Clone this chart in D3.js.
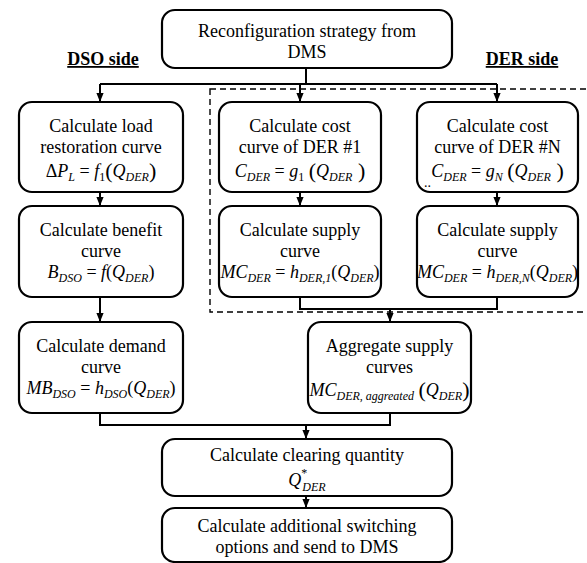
<!DOCTYPE html>
<html><head><meta charset="utf-8">
<script src="https://cdn.jsdelivr.net/npm/d3@7"></script>
<style>body{margin:0;background:#fff}svg{display:block}</style>
</head><body><svg id="c" width="587" height="563"></svg>
<script>
// ---- content (text) ----
const nodeIds = ["top","load","cost1","costN","benefit","supply1","supplyN","demand","aggregate","clearing","final"];
const topLines = ["Reconfiguration strategy from","DMS"];
const loadLines = ["Calculate load","restoration curve"];
const cost1Lines = ["Calculate cost","curve of DER #1"];
const costNLines = ["Calculate cost","curve of DER #N"];
const benefitLines = ["Calculate benefit","curve"];
const supply1Lines = ["Calculate supply","curve"];
const supplyNLines = ["Calculate supply","curve"];
const demandLines = ["Calculate demand","curve"];
const aggregateLines = ["Aggregate supply","curves"];
const clearingLines = ["Calculate clearing quantity"];
const finalLines = ["Calculate additional switching","options and send to DMS"];
const sideLabels = ["DSO side","DER side"];

// formulas: [text, kind]  i=italic, r=roman, s=italic subscript, sr=roman subscript, sup=superscript, p=big paren
const fLoad = [["\u0394","r"],["P","i"],["L","s"],[" = ","r"],["f","i"],["1","sr"],["(","p"],["Q","i"],["DER","s"],[")","p"]];
const fCost1 = [["C","i"],["DER","s"],[" = ","r"],["g","i"],["1","sr"],[" ","r"],["(","p"],["Q","i"],["DER","s"],[" )","p"]];
const fCostN = [["C","i"],["DER","s"],[" = ","r"],["g","i"],["N","s"],[" ","r"],["(","p"],["Q","i"],["DER","s"],[" )","p"]];
const fBenefit = [["B","i"],["DSO","s"],[" = ","r"],["f","i"],["(","r"],["Q","i"],["DER","s"],[")","r"]];
const fSupply1 = [["MC","i"],["DER","s"],[" = ","r"],["h","i"],["DER,1","s"],["(","r"],["Q","i"],["DER","s"],[")","r"]];
const fSupplyN = [["MC","i"],["DER","s"],[" = ","r"],["h","i"],["DER,N","s"],["(","r"],["Q","i"],["DER","s"],[")","r"]];
const fDemand = [["MB","i"],["DSO","s"],[" = ","r"],["h","i"],["DSO","s"],["(","r"],["Q","i"],["DER","s"],[")","r"]];
const fAggregate = [["MC","i"],["DER, aggreated","s"],[" ","r"],["(","p"],["Q","i"],["DER","s"],[")","p"]];
const fClearing = [["Q","i"],["*","sup"],["DER","sb"]];

// ---- layout (positions & sizes) ----
const layout = {
  top:      {x:162,y:10, w:290,h:58, lines:topLines,      base:[27,48],         f:null},
  load:     {x:19, y:102,w:164,h:90, lines:loadLines,     base:[30,51,75],      f:fLoad},
  cost1:    {x:219,y:102,w:162,h:90, lines:cost1Lines,    base:[30,51,75],      f:fCost1},
  costN:    {x:417,y:102,w:161,h:90, lines:costNLines,    base:[30,51,75],      f:fCostN},
  benefit:  {x:19, y:206,w:164,h:91, lines:benefitLines,  base:[30,51,72],      f:fBenefit},
  supply1:  {x:219,y:206,w:162,h:91, lines:supply1Lines,  base:[30,51,72],      f:fSupply1},
  supplyN:  {x:417,y:206,w:161,h:91, lines:supplyNLines,  base:[30,51,72],      f:fSupplyN},
  demand:   {x:19, y:322,w:164,h:91, lines:demandLines,   base:[30,51,72],      f:fDemand},
  aggregate:{x:308,y:322,w:163,h:91, lines:aggregateLines,base:[30,51,74],      f:fAggregate},
  clearing: {x:162,y:439,w:290,h:57, lines:clearingLines, base:[22,47],         f:fClearing},
  final:    {x:162,y:508,w:290,h:54, lines:finalLines,    base:[24,45],         f:null}
};

const FONT = "'Liberation Serif'";
const svg = d3.select("#c");
svg.append("defs").append("marker")
  .attr("id","arr").attr("viewBox","0 0 10 10").attr("refX",10).attr("refY",5)
  .attr("markerWidth",9).attr("markerHeight",9).attr("markerUnits","userSpaceOnUse")
  .attr("orient","auto")
  .append("path").attr("d","M0,1 L10,5 L0,9 Z").attr("fill","#000");

// dashed DER region
svg.append("rect").attr("x",210).attr("y",89).attr("width",385).attr("height",223)
  .attr("fill","none").attr("stroke","#000").attr("stroke-width",1.4).attr("stroke-dasharray","6,4");

const nodes = nodeIds.map(id => Object.assign({id}, layout[id]));
const cx = n => n.x + n.w/2;
const N = Object.fromEntries(nodes.map(n=>[n.id,n]));

// connectors
const line = d3.line();
const plain = [
  [[306,N.top.y+N.top.h],[306,84]],
  [[100,84],[497,84]],
  [[300,N.supply1.y+N.supply1.h],[300,309],[497,309],[497,N.supplyN.y+N.supplyN.h]],
  [[100,N.demand.y+N.demand.h],[100,425],[390,425],[390,N.aggregate.y+N.aggregate.h]]
];
const arrows = [
  [[100,84],[100,N.load.y]],
  [[300,84],[300,N.cost1.y]],
  [[497,84],[497,N.costN.y]],
  [[100,N.load.y+N.load.h],[100,N.benefit.y]],
  [[300,N.cost1.y+N.cost1.h],[300,N.supply1.y]],
  [[497,N.costN.y+N.costN.h],[497,N.supplyN.y]],
  [[100,N.benefit.y+N.benefit.h],[100,N.demand.y]],
  [[390,309],[390,N.aggregate.y]],
  [[306,425],[306,N.clearing.y]],
  [[306,N.clearing.y+N.clearing.h],[306,N.final.y]]
];
svg.selectAll("path.pl").data(plain).join("path").attr("class","pl")
  .attr("d",line).attr("fill","none").attr("stroke","#000").attr("stroke-width",2);
svg.selectAll("path.ar").data(arrows).join("path").attr("class","ar")
  .attr("d",line).attr("fill","none").attr("stroke","#000").attr("stroke-width",2)
  .attr("marker-end","url(#arr)");

// boxes
const g = svg.selectAll("g.node").data(nodes).join("g").attr("class","node");
g.append("rect").attr("x",d=>d.x).attr("y",d=>d.y).attr("width",d=>d.w).attr("height",d=>d.h)
  .attr("rx",13).attr("ry",13).attr("fill","#fff").attr("stroke","#000").attr("stroke-width",2.2);

g.each(function(d){
  const s = d3.select(this);
  d.lines.forEach((t,i)=>{
    s.append("text").attr("x",cx(d)).attr("y",d.y+d.base[i]).attr("text-anchor","middle")
      .attr("font-family",FONT).attr("font-size",18).text(t);
  });
  if(d.f) drawFormula(s, cx(d), d.y+d.base[d.lines.length], d.f);
});

function drawFormula(sel, x, y, segs){
  const t = sel.append("text").attr("x",x).attr("y",y).attr("text-anchor","middle")
    .attr("font-family",FONT).style("white-space","pre");
  let off = 0;
  segs.forEach(([s,k])=>{
    let size=18, it=false, target=0, dx=0;
    if(k==="i"){it=true;}
    else if(k==="s"){it=true;size=12;target=4;}
    else if(k==="sr"){size=12;target=4;}
    else if(k==="sup"){size=12;target=-9;}
    else if(k==="sb"){it=true;size=12;target=5;dx=-5;}
    else if(k==="p"){size=22;target=1;}
    const ts = t.append("tspan").text(s).attr("dy",target-off);
    if(dx) ts.attr("dx",dx);
    off = target;
    ts.attr("font-size",size).attr("font-style",it?"italic":"normal");
  });
}

// ellipsis in DER #N box
svg.append("text").attr("x",424).attr("y",187).attr("font-family",FONT).attr("font-size",14).text("..");

// side labels
const sideX = [103,522];
svg.selectAll("text.side").data(sideLabels).join("text").attr("class","side")
  .attr("x",(d,i)=>sideX[i]).attr("y",65).attr("text-anchor","middle")
  .attr("font-family",FONT).attr("font-size",18).attr("font-weight","bold")
  .style("text-decoration","underline")
  .text(d=>d);
</script></body></html>
